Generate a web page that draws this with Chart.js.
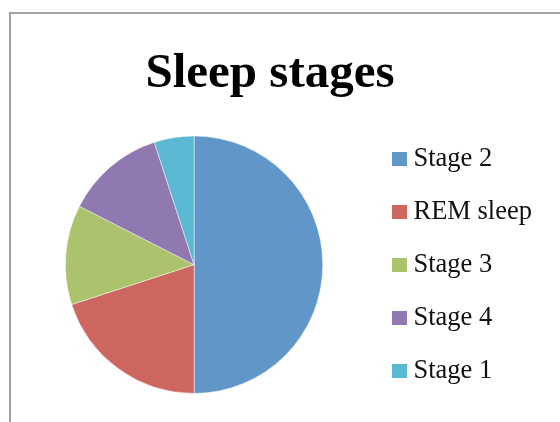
<!DOCTYPE html>
<html>
<head>
<meta charset="utf-8">
<script src="https://cdn.jsdelivr.net/npm/chart.js@4"></script>
<style>
  html, body { margin: 0; padding: 0; background: #fff; }
  #wrap { position: relative; width: 560px; height: 422px; overflow: hidden; }
  #frame { position: absolute; left: 9px; top: 12px; right: -4px; bottom: -4px;
           border-left: 2px solid #a3a3a3; border-top: 2px solid #a3a3a3; }
  #sleepChart { position: absolute; left: 0; top: 0; }
</style>
</head>
<body>
<div id="wrap">
  <div id="frame"></div>
  <canvas id="sleepChart" width="560" height="422"></canvas>
</div>
<script>
const chartTitle = "Sleep stages";
const stageLabels = ["Stage 2", "REM sleep", "Stage 3", "Stage 4", "Stage 1"];
const stageShare = [50, 20, 12.5, 12.5, 5];
const stageColors = ["#6096c8", "#cc665f", "#aac36c", "#9079b0", "#5bb8d2"];

// little colour squares used as legend point styles (lets the text sit close to the box)
function swatch(color) {
    const c = document.createElement("canvas");
    c.width = 15;
    c.height = 14;
    const g = c.getContext("2d");
    g.fillStyle = color;
    g.fillRect(0, 0, 15, 14);
    return c;
}
const swatches = stageColors.map(swatch);

// the built-in title centres over pie+legend, the original sits a bit more to the left
const titlePlugin = {
    id: "sleepTitle",
    afterDraw(chart) {
        const c = chart.ctx;
        c.save();
        c.font = "bold 49px 'Liberation Serif', serif";
        c.fillStyle = "#000";
        c.textAlign = "center";
        c.textBaseline = "alphabetic";
        c.fillText(chartTitle, 270, 87);
        c.restore();
    }
};

const ctx = document.getElementById("sleepChart").getContext("2d");

new Chart(ctx, {
    type: "pie",
    data: {
        labels: stageLabels,
        datasets: [{
            data: stageShare,
            backgroundColor: stageColors,
            borderColor: "rgba(255,255,255,0.6)",
            borderWidth: 0.8,
            radius: 128.7,
        }],
    },
    options: {
        responsive: false,
        animation: false,
        layout: { padding: { left: 15.4, right: 18, top: 111, bottom: 3.6 } },
        plugins: {
            legend: {
                position: "right",
                fullSize: false,
                labels: {
                    color: "#111",
                    font: { family: "'Liberation Serif', serif", size: 26.5 },
                    padding: 26.5,
                    usePointStyle: true,
                    pointStyleWidth: 1,
                    generateLabels: function(chart) {
                        const items = Chart.overrides.pie.plugins.legend.labels.generateLabels(chart);
                        items.forEach(function(item, i) { item.pointStyle = swatches[i]; });
                        return items;
                    }
                }
            },
            tooltip: { enabled: false },
        },
    },
    plugins: [titlePlugin],
});
</script>
</body>
</html>
